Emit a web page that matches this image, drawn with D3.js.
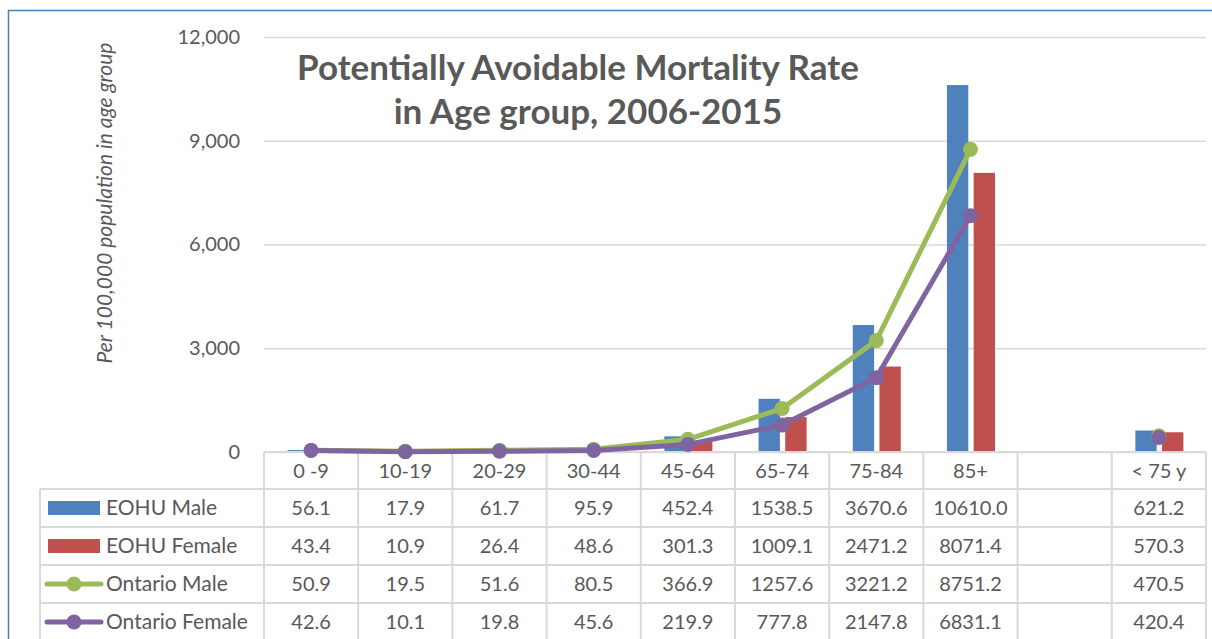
<!DOCTYPE html>
<html>
<head>
<meta charset="utf-8">
<script src="https://cdn.jsdelivr.net/npm/d3@7"></script>
<style>
  body { margin: 0; background: #fff; }
  text { font-family: Lato, "Open Sans", sans-serif; fill: #595959; }
</style>
</head>
<body>
<script>
// chart data
var categories = ["0 -9", "10-19", "20-29", "30-44", "45-64", "65-74", "75-84", "85+", "", "< 75 y"];
var eohuMale = [56.1, 17.9, 61.7, 95.9, 452.4, 1538.5, 3670.6, 10610.0, null, 621.2];
var eohuFemale = [43.4, 10.9, 26.4, 48.6, 301.3, 1009.1, 2471.2, 8071.4, null, 570.3];
var ontarioMale = [50.9, 19.5, 51.6, 80.5, 366.9, 1257.6, 3221.2, 8751.2, null, 470.5];
var ontarioFemale = [42.6, 10.1, 19.8, 45.6, 219.9, 777.8, 2147.8, 6831.1, null, 420.4];
var yTicks = [0, 3000, 6000, 9000, 12000];

var series = [
    {name: "EOHU Male", values: eohuMale, color: "#4F81BD", type: "bar"},
    {name: "EOHU Female", values: eohuFemale, color: "#C0504D", type: "bar"},
    {name: "Ontario Male", values: ontarioMale, color: "#9BBB59", type: "line"},
    {name: "Ontario Female", values: ontarioFemale, color: "#8064A2", type: "line"}
];

var width = 1212, height = 639;
var plotLeft = 264, plotRight = 1206, plotTop = 37, plotBottom = 452;
var tableLeft = 40, headerBottom = 489, rowH = 38;
var gridColor = "#d9d9d9";

var svg = d3.select("body").append("svg")
    .attr("width", width)
    .attr("height", height);

var x = d3.scaleBand().domain(categories).range([plotLeft, plotRight]);
var bw = x.bandwidth();
var barSeries = series.filter(function (s) { return s.type == "bar"; });
var lineSeries = series.filter(function (s) { return s.type == "line"; });
var x1 = d3.scaleBand().domain(barSeries.map(function (s) { return s.name; }))
    .range([bw * 0.25, bw * 0.76]).paddingInner(0.2);
var y = d3.scaleLinear().domain([0, 12000]).range([plotBottom, plotTop]);

// chart border
svg.append("rect")
    .attr("x", 8.5).attr("y", 10.5)
    .attr("width", 1300).attr("height", 700)
    .attr("fill", "none")
    .attr("stroke", "#4a7ebb")
    .attr("stroke-width", 1.5);

// gridlines + y axis labels
var yAxis = svg.append("g")
    .attr("transform", "translate(" + plotLeft + ",0)")
    .call(d3.axisLeft(y).tickValues(yTicks).tickSize(-(plotRight - plotLeft)).tickPadding(24)
        .tickFormat(d3.format(",")));
yAxis.select(".domain").remove();
yAxis.selectAll(".tick line").attr("stroke", gridColor).attr("stroke-width", 1.3);
yAxis.selectAll(".tick text")
    .style("font-size", "20px")
    .attr("fill", "#595959");

svg.append("text")
    .attr("transform", "translate(112," + 203 + ") rotate(-90)")
    .attr("text-anchor", "middle")
    .style("font-size", "21px")
    .style("font-style", "italic")
    .text("Per 100,000 population in age group");

// bars
barSeries.forEach(function (s) {
    svg.append("g").selectAll("rect")
        .data(s.values.map(function (v, i) { return {cat: categories[i], v: v}; })
            .filter(function (d) { return d.v != null; }))
        .enter().append("rect")
        .attr("x", function (d) { return x(d.cat) + x1(s.name); })
        .attr("y", function (d) { return y(d.v); })
        .attr("width", x1.bandwidth())
        .attr("height", function (d) { return plotBottom - y(d.v); })
        .attr("fill", s.color);
});

// table grid
var table = svg.append("g");
var nRows = series.length;
// horizontal lines
table.append("line")
    .attr("x1", plotLeft).attr("x2", plotRight)
    .attr("y1", plotBottom).attr("y2", plotBottom)
    .attr("stroke", gridColor).attr("stroke-width", 2);
for (var r = 0; r <= nRows; r++) {
    table.append("line")
        .attr("x1", tableLeft).attr("x2", plotRight)
        .attr("y1", headerBottom + r * rowH).attr("y2", headerBottom + r * rowH)
        .attr("stroke", gridColor).attr("stroke-width", 2);
}
// vertical lines
categories.forEach(function (c, i) {
    table.append("line")
        .attr("x1", x(c)).attr("x2", x(c))
        .attr("y1", plotBottom).attr("y2", height)
        .attr("stroke", gridColor).attr("stroke-width", 2);
});
table.append("line")
    .attr("x1", plotRight).attr("x2", plotRight)
    .attr("y1", plotBottom).attr("y2", height)
    .attr("stroke", gridColor).attr("stroke-width", 2);
table.append("line")
    .attr("x1", tableLeft).attr("x2", tableLeft)
    .attr("y1", headerBottom).attr("y2", height)
    .attr("stroke", gridColor).attr("stroke-width", 2);

// header labels
table.selectAll(".cat")
    .data(categories)
    .enter().append("text")
    .attr("class", "cat")
    .attr("x", function (d) { return x(d) + bw / 2; })
    .attr("y", (plotBottom + headerBottom) / 2)
    .attr("dy", "0.35em")
    .attr("text-anchor", "middle")
    .style("font-size", "20px")
    .text(function (d) { return d; });

// rows
series.forEach(function (s, r) {
    var cy = headerBottom + r * rowH + rowH / 2;
    var row = table.append("g");
    if (s.type == "bar") {
        row.append("rect")
            .attr("x", 48).attr("y", cy - 7)
            .attr("width", 52).attr("height", 14)
            .attr("fill", s.color);
    } else {
        row.append("line")
            .attr("x1", 47).attr("x2", 101)
            .attr("y1", cy).attr("y2", cy)
            .attr("stroke", s.color).attr("stroke-width", 5)
            .attr("stroke-linecap", "round");
        row.append("circle")
            .attr("cx", 74).attr("cy", cy).attr("r", 7.5)
            .attr("fill", s.color);
    }
    row.append("text")
        .attr("x", 106).attr("y", cy).attr("dy", "0.35em")
        .style("font-size", "21px")
        .text(s.name);
    row.selectAll(".val")
        .data(s.values)
        .enter().append("text")
        .attr("x", function (d, i) { return x(categories[i]) + bw / 2; })
        .attr("y", cy).attr("dy", "0.35em")
        .attr("text-anchor", "middle")
        .style("font-size", "20px")
        .text(function (d) { return d == null ? "" : d3.format(".1f")(d); });
});

// lines
var line = d3.line()
    .defined(function (d) { return d.v != null; })
    .x(function (d) { return x(d.cat) + bw / 2; })
    .y(function (d) { return y(d.v); });

lineSeries.forEach(function (s) {
    var pts = s.values.map(function (v, i) { return {cat: categories[i], v: v}; });
    var g = svg.append("g");
    g.append("path")
        .datum(pts)
        .attr("d", line)
        .attr("fill", "none")
        .attr("stroke", s.color)
        .attr("stroke-width", 5)
        .attr("stroke-linejoin", "round");
    g.selectAll("circle")
        .data(pts.filter(function (d) { return d.v != null; }))
        .enter().append("circle")
        .attr("cx", function (d) { return x(d.cat) + bw / 2; })
        .attr("cy", function (d) { return y(d.v); })
        .attr("r", 7.5)
        .attr("fill", s.color);
});

// title
var title = svg.append("text")
    .attr("text-anchor", "middle")
    .style("font-size", "35px")
    .style("font-weight", "bold");
title.append("tspan").attr("x", 578).attr("y", 80).text("Potentially Avoidable Mortality Rate");
title.append("tspan").attr("x", 588).attr("y", 124).text("in Age group, 2006-2015");
</script>
</body>
</html>
